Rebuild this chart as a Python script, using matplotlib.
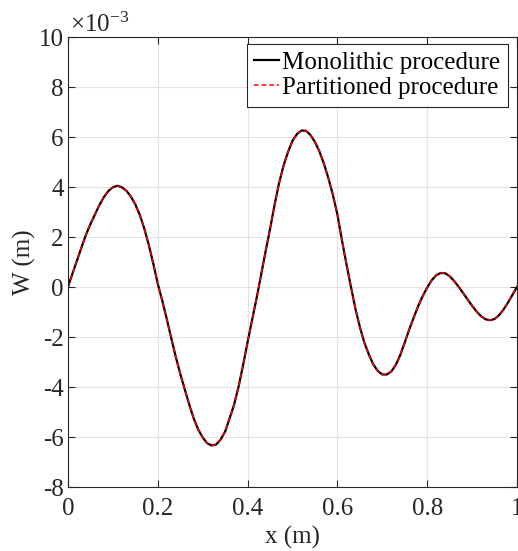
import matplotlib
matplotlib.use("Agg")
import matplotlib.pyplot as plt
import numpy as np

x_pos = np.linspace(0, 1, 101)
w_monolithic = [0.0, 0.54, 1.06, 1.58, 2.09, 2.52, 2.9, 3.28, 3.6, 3.84,
                3.99, 4.05, 3.99, 3.85, 3.62, 3.3, 2.88, 2.33, 1.68, 0.93,
                0.12, -0.55, -1.28, -2.05, -2.79, -3.47, -4.09, -4.7, -5.26, -5.7,
                -6.02, -6.25, -6.34, -6.3, -6.1, -5.78, -5.25, -4.7, -3.98, -3.12,
                -2.2, -1.32, -0.45, 0.48, 1.42, 2.32, 3.28, 4.15, 4.85, 5.4,
                5.85, 6.12, 6.26, 6.25, 6.08, 5.8, 5.42, 4.93, 4.35, 3.68,
                2.9, 1.88, 0.93, 0.02, -0.86, -1.6, -2.22, -2.7, -3.1, -3.36,
                -3.5, -3.5, -3.38, -3.12, -2.72, -2.22, -1.7, -1.22, -0.76, -0.36,
                -0.02, 0.27, 0.47, 0.56, 0.55, 0.43, 0.24, 0.01, -0.24, -0.5,
                -0.75, -0.98, -1.17, -1.29, -1.33, -1.28, -1.13, -0.9, -0.62, -0.31,
                0.0]
w_partitioned = list(w_monolithic)

x_ticks = [0, 0.2, 0.4, 0.6, 0.8, 1]
x_ticklabels = ["0", "0.2", "0.4", "0.6", "0.8", "1"]
y_ticks = [-8, -6, -4, -2, 0, 2, 4, 6, 8, 10]

plt.rcParams['font.family'] = ['Liberation Serif', 'DejaVu Serif']
plt.rcParams['mathtext.fontset'] = 'custom'
plt.rcParams['mathtext.rm'] = 'Liberation Serif'
plt.rcParams['mathtext.it'] = 'Liberation Serif:italic'
plt.rcParams['axes.unicode_minus'] = False

fs = 18
axis_col = '#262626'

fig = plt.figure(figsize=(5.18, 5.51), dpi=100)
ax = fig.add_axes([68 / 518, 64 / 551, 449 / 518, 450 / 551])

ax.plot(x_pos, w_monolithic, color='black', lw=1.6, label='Monolithic procedure')
ax.plot(x_pos, w_partitioned, color='red', lw=1.1, ls=(0, (3, 2)), label='Partitioned procedure')

ax.set_xlim(0, 1)
ax.set_ylim(-8, 10)
ax.set_xticks(x_ticks)
ax.set_xticklabels(x_ticklabels)
ax.set_yticks(y_ticks)
ax.grid(True, color='#e3e3e3', lw=0.8)
ax.set_axisbelow(True)

ax.tick_params(direction='in', length=5, width=0.8, colors=axis_col,
               labelsize=fs, labelcolor=axis_col, top=True, right=True)
ax.tick_params(axis='x', pad=8)
ax.tick_params(axis='y', pad=3)
for sp in ax.spines.values():
    sp.set_color(axis_col)
    sp.set_linewidth(0.8)

ax.set_xlabel('x (m)', fontsize=fs, color=axis_col, labelpad=4)
ax.set_ylabel('W (m)', fontsize=fs, color=axis_col, labelpad=2)
ax.text(0.004, 1.0, r'$\times10^{-3}$', transform=ax.transAxes, fontsize=fs,
        color=axis_col, ha='left', va='bottom')

leg = ax.legend(loc='upper right', bbox_to_anchor=(0.98, 0.984), borderaxespad=0,
                fontsize=fs, handlelength=1.0, handletextpad=0.12,
                borderpad=0.3, labelspacing=0.1,
                fancybox=False, framealpha=1, edgecolor=axis_col)
leg.get_frame().set_linewidth(0.8)

fig.savefig('out.png', dpi=100)
